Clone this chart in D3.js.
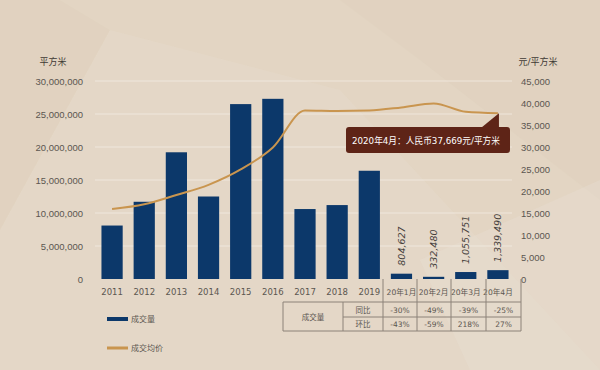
<!DOCTYPE html>
<html>
<head>
<meta charset="utf-8">
<script src="https://cdn.jsdelivr.net/npm/d3@7"></script>
<style>
  body { margin: 0; background: #e3d5c3; }
  svg { display: block; font-family: "DejaVu Sans", "Noto Sans CJK SC", sans-serif; }
</style>
</head>
<body>
<svg id="chart" width="600" height="370"></svg>
<script>
// categories and series
const categories = ["2011", "2012", "2013", "2014", "2015", "2016", "2017", "2018", "2019",
    "20年1月", "20年2月", "20年3月", "20年4月"];
const volume = [8100000, 11700000, 19200000, 12500000, 26500000, 27300000, 10600000, 11200000, 16400000,
    804627, 332480, 1055751, 1339490];
const price = [15900, 17000, 19100, 21400, 24900, 29900, 38300, 38200, 38300, 39000, 39900, 38000, 37669];
const monthLabels = ["804,627", "332,480", "1,055,751", "1,339,490"];
const leftTicks = [0, 5000000, 10000000, 15000000, 20000000, 25000000, 30000000];
const rightTicks = [0, 5000, 10000, 15000, 20000, 25000, 30000, 35000, 40000, 45000];
const tableRows = ["同比", "环比"];
const yoy = ["-30%", "-49%", "-39%", "-25%"];
const mom = ["-43%", "-59%", "218%", "27%"];

const barColor = "#0c386a", lineColor = "#c9954f", textColor = "#5b5650";

const svg = d3.select("#chart");

// background texture (subtle)
const bg = svg.append("g");
bg.append("rect").attr("width", 600).attr("height", 370).attr("fill", "#e3d5c3");
bg.append("polygon").attr("points", "0,0 60,0 110,30 0,230").attr("fill", "#dccdbb").attr("opacity", 0.35);
bg.append("polygon").attr("points", "0,230 110,30 340,90 600,370 0,370").attr("fill", "#e8ddcf").attr("opacity", 0.3);
bg.append("polygon").attr("points", "340,0 600,0 600,200 420,60").attr("fill", "#dccdbb").attr("opacity", 0.35);
bg.append("polygon").attr("points", "420,260 600,180 600,370 470,370").attr("fill", "#e9dfd3").attr("opacity", 0.35);

// scales
const x = d3.scaleBand()
    .domain(categories)
    .range([96, 514])
    .paddingInner(0.34)
    .paddingOuter(0.17);

const yL = d3.scaleLinear().domain([0, 30000000]).range([279, 81]);
const yR = d3.scaleLinear().domain([0, 45000]).range([279, 81]);

// gridlines
svg.append("g")
    .selectAll("line")
    .data(leftTicks.slice(1))
    .join("line")
    .attr("x1", 95).attr("x2", 512)
    .attr("y1", d => yL(d)).attr("y2", d => yL(d))
    .attr("stroke", "#f3ece3").attr("stroke-width", 1).attr("opacity", 0.8);

// left axis
const axL = svg.append("g")
    .attr("transform", "translate(83,0)")
    .call(d3.axisLeft(yL).tickValues(leftTicks).tickSize(0).tickPadding(0).tickFormat(d3.format(",")));
axL.select(".domain").remove();
axL.selectAll("text").attr("fill", textColor).attr("font-size", 9.5).attr("font-family", null);

// right axis
const axR = svg.append("g")
    .attr("transform", "translate(521,0)")
    .call(d3.axisRight(yR).tickValues(rightTicks).tickSize(0).tickPadding(0).tickFormat(d3.format(",")));
axR.select(".domain").remove();
axR.selectAll("text").attr("fill", textColor).attr("font-size", 9.5).attr("font-family", null);

// unit labels
svg.append("text").attr("x", 53).attr("y", 65).attr("text-anchor", "middle")
    .attr("font-size", 9).attr("fill", "#3f3a35").text("平方米");
svg.append("text").attr("x", 538).attr("y", 65).attr("text-anchor", "middle")
    .attr("font-size", 9).attr("fill", "#3f3a35").text("元/平方米");

// bars
svg.append("g")
    .selectAll("rect")
    .data(categories)
    .join("rect")
    .attr("x", d => x(d))
    .attr("y", (d, i) => yL(volume[i]))
    .attr("width", x.bandwidth())
    .attr("height", (d, i) => 279 - yL(volume[i]))
    .attr("fill", barColor);

// x labels
svg.append("g")
    .selectAll("text")
    .data(categories)
    .join("text")
    .attr("x", d => x(d) + x.bandwidth() / 2)
    .attr("y", 295)
    .attr("text-anchor", "middle")
    .attr("font-size", d => d.length > 4 ? 7.6 : 8.5)
    .attr("fill", textColor)
    .text(d => d);

// monthly value labels, rotated
const months = categories.slice(9);
svg.append("g")
    .selectAll("text")
    .data(months)
    .join("text")
    .attr("transform", (d, i) => `translate(${x(d) + x.bandwidth() / 2 + 3.5},${yL(volume[i + 9]) - 8}) rotate(-90)`)
    .attr("font-size", 9.5)
    .attr("font-style", "italic")
    .attr("fill", "#46413c")
    .text((d, i) => monthLabels[i]);

// price line
const line = d3.line()
    .x(d => x(d[0]) + x.bandwidth() / 2)
    .y(d => yR(d[1]))
    .curve(d3.curveMonotoneX);
svg.append("path")
    .datum(categories.map((c, i) => [c, price[i]]))
    .attr("d", line)
    .attr("fill", "none")
    .attr("stroke", lineColor)
    .attr("stroke-width", 2);

// annotation callout
const last = categories[categories.length - 1];
const px = x(last) + x.bandwidth() / 2, py = yR(price[price.length - 1]);
const ann = svg.append("g");
ann.append("rect").attr("x", 346).attr("y", 127).attr("width", 164).attr("height", 26)
    .attr("rx", 3).attr("fill", "#5e2417");
ann.append("polygon").attr("points", `${px + 1},${py} ${px + 1},${128} ${px - 17},${128}`)
    .attr("fill", "#5e2417");
ann.append("text").attr("x", 352).attr("y", 144).attr("font-size", 9).attr("fill", "#fff")
    .attr("textLength", 148).attr("lengthAdjust", "spacingAndGlyphs")
    .text("2020年4月：人民币" + d3.format(",")(price[price.length - 1]) + "元/平方米");

// table
const colX = [283, 343, 383, 417, 451, 486, 521];
const tTop = 302, tMid = 317, tBot = 331;
const tbl = svg.append("g").attr("stroke", "#8c8278").attr("stroke-width", 1);
// column separators under month labels
colX.slice(2).forEach(cx => tbl.append("line").attr("x1", cx).attr("x2", cx).attr("y1", 279).attr("y2", tBot));
tbl.append("line").attr("x1", colX[0]).attr("x2", colX[0]).attr("y1", tTop).attr("y2", tBot);
tbl.append("line").attr("x1", colX[1]).attr("x2", colX[1]).attr("y1", tTop).attr("y2", tBot);
tbl.append("line").attr("x1", colX[0]).attr("x2", colX[6]).attr("y1", tTop).attr("y2", tTop);
tbl.append("line").attr("x1", colX[1]).attr("x2", colX[6]).attr("y1", tMid).attr("y2", tMid);
tbl.append("line").attr("x1", colX[0]).attr("x2", colX[6]).attr("y1", tBot).attr("y2", tBot);

const tText = svg.append("g").attr("font-size", 7.5).attr("fill", textColor).attr("text-anchor", "middle");
tText.append("text").attr("x", (colX[0] + colX[1]) / 2).attr("y", tMid + 3).text("成交量");
tableRows.forEach((r, ri) => {
    const cy = ri === 0 ? (tTop + tMid) / 2 + 3 : (tMid + tBot) / 2 + 3;
    tText.append("text").attr("x", (colX[1] + colX[2]) / 2).attr("y", cy).text(r);
    (ri === 0 ? yoy : mom).forEach((v, j) => {
        tText.append("text").attr("x", (colX[j + 2] + colX[j + 3]) / 2).attr("y", cy).text(v);
    });
});

// legend
const lg = svg.append("g");
lg.append("rect").attr("x", 107).attr("y", 317).attr("width", 21).attr("height", 4).attr("fill", barColor);
lg.append("text").attr("x", 131).attr("y", 322).attr("font-size", 8).attr("fill", textColor).text("成交量");
lg.append("line").attr("x1", 107).attr("x2", 128).attr("y1", 348).attr("y2", 348)
    .attr("stroke", lineColor).attr("stroke-width", 3);
lg.append("text").attr("x", 131).attr("y", 351).attr("font-size", 8).attr("fill", textColor).text("成交均价");
</script>
</body>
</html>
